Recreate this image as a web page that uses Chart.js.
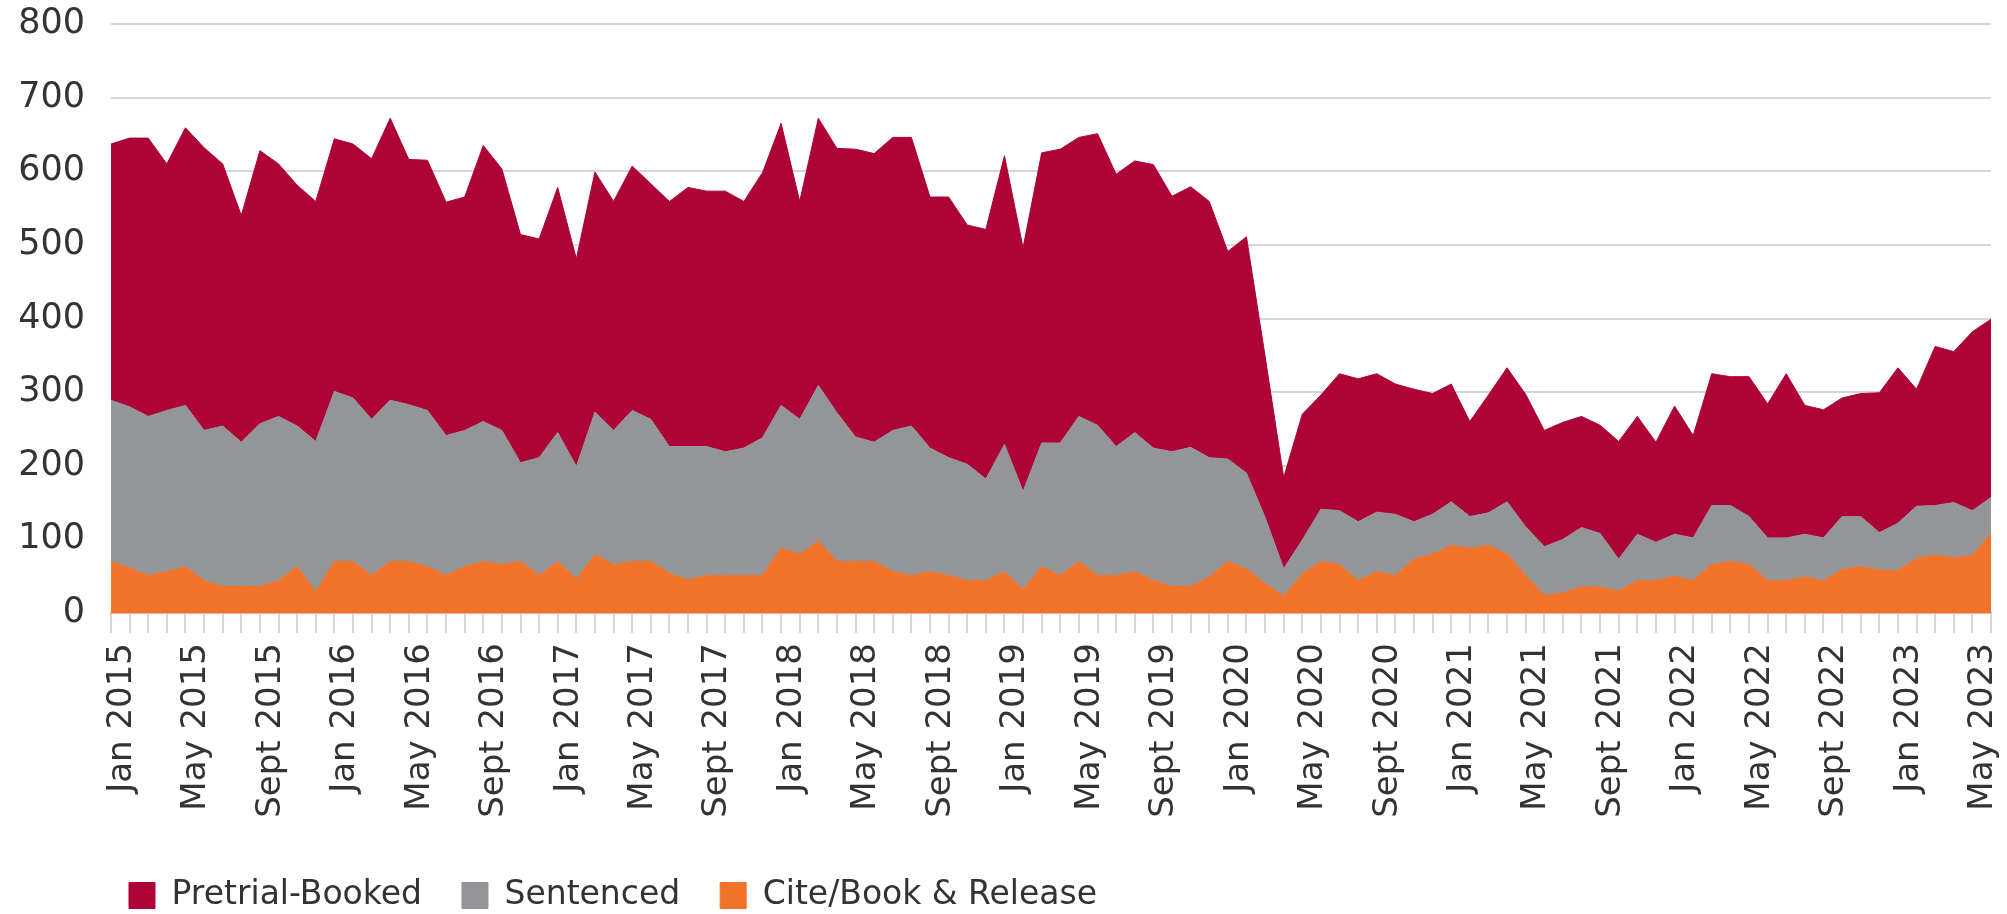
<!DOCTYPE html>
<html>
<head>
<meta charset="utf-8">
<script src="https://cdn.jsdelivr.net/npm/chart.js"></script>
<style>
    html, body { margin: 0; padding: 0; background: #fff; }
    #wrap { width: 2007px; height: 914px; position: relative; }
</style>
</head>
<body>
<div id="wrap"><canvas id="grafico1"></canvas></div>
<script>
// months Jan 2015 .. June 2023, a label only every 4th month
const monthNames = ['Jan', 'Feb', 'Mar', 'Apr', 'May', 'June', 'July', 'Aug', 'Sept', 'Oct', 'Nov', 'Dec'];
const years = [2015, 2016, 2017, 2018, 2019, 2020, 2021, 2022, 2023];
const lastMonth = 6; // data stops at June 2023

const pretrial = [
    348, 365, 378, 335, 377, 384, 356, 308, 371, 343,
    327, 326, 343, 345, 354, 383, 333, 340, 317, 317,
    375, 355, 310, 297, 333, 282, 326, 311, 332, 320,
    333, 352, 347, 354, 335, 360, 383, 296, 363, 359,
    391, 392, 398, 392, 341, 354, 325, 339, 392, 331,
    394, 399, 379, 396, 370, 369, 385, 347, 354, 348,
    282, 321, 219, 124, 171, 155, 186, 194, 188, 177,
    180, 164, 160, 129, 160, 182, 180, 158, 159, 151,
    147, 160, 160, 136, 174, 139, 179, 175, 190, 182,
    223, 175, 174, 161, 167, 190, 211, 159, 216, 205,
    243, 242
];
const sentenced = [
    219, 219, 216, 219, 219, 204, 218, 196, 221, 223,
    191, 204, 231, 222, 212, 219, 213, 212, 190, 185,
    190, 182, 134, 160, 175, 153, 194, 182, 205, 193,
    172, 181, 175, 168, 173, 187, 194, 183, 211, 202,
    169, 162, 192, 203, 168, 160, 158, 138, 173, 133,
    168, 180, 197, 204, 175, 189, 180, 183, 189, 162,
    139, 130, 90, 37, 46, 71, 73, 80, 81, 83,
    51, 54, 59, 43, 44, 71, 66, 66, 73, 80,
    73, 43, 63, 52, 57, 58, 80, 76, 65, 58,
    58, 58, 58, 72, 68, 51, 64, 71, 67, 75,
    61, 49
];
const cite = [
    70, 61, 51, 56, 63, 44, 36, 36, 36, 44,
    63, 29, 70, 70, 51, 70, 70, 63, 51, 63,
    70, 66, 70, 51, 70, 46, 79, 66, 70, 70,
    54, 45, 51, 51, 51, 51, 88, 80, 98, 70,
    70, 70, 56, 51, 56, 51, 44, 44, 56, 32,
    63, 51, 70, 51, 51, 56, 44, 36, 36, 49,
    70, 60, 40, 23, 53, 70, 66, 44, 56, 51,
    73, 80, 92, 88, 92, 80, 51, 24, 27, 36,
    35, 30, 44, 44, 50, 44, 66, 70, 66, 44,
    44, 49, 44, 59, 63, 58, 58, 74, 79, 75,
    78, 108
];

const labels = [];
years.forEach(function(y){
    monthNames.forEach(function(m, i){
        if (y < 2023 || i < lastMonth) labels.push(m + ' ' + y);
    });
});

const fontFam = "'DejaVu Sans', sans-serif";
const plotBottom = 613;
const extraBottom = 300; // negative layout padding so the x labels are not clipped
const legendGap = 40;

// puts the legend under the labels, lined up with the plot
const moveLegend = {
    id: 'moveLegend',
    afterLayout(chart){
        chart.legend.left = 129 - legendGap;
        chart.legend.top = 839;
    }
};

window.onload = function(){
    const ctx = document.getElementById('grafico1');

    new Chart(ctx, {
        type: 'line',
        data: {
            labels: labels,
            datasets: [
                {
                    label: 'Cite/Book & Release',
                    data: cite,
                    backgroundColor: '#F07329',
                    borderColor: '#F07329',
                    fill: 'origin'
                },
                {
                    label: 'Sentenced',
                    data: sentenced,
                    backgroundColor: '#939598',
                    borderColor: '#939598',
                    fill: '-1'
                },
                {
                    label: 'Pretrial-Booked',
                    data: pretrial,
                    backgroundColor: '#AE0336',
                    borderColor: '#AE0336',
                    fill: '-1'
                }
            ]
        },
        options: {
            responsive: true,
            maintainAspectRatio: false,
            animation: false,
            layout: {
                padding: { top: 24, right: 16, bottom: -extraBottom, left: 0 }
            },
            elements: {
                line: { tension: 0, borderWidth: 1 },
                point: { radius: 0, hoverRadius: 0 }
            },
            scales: {
                x: {
                    grid: {
                        drawOnChartArea: false,
                        drawTicks: true,
                        tickLength: 20,
                        color: '#d6d6d6',
                        lineWidth: 2
                    },
                    border: { display: true, color: '#f6b48a', width: 2 },
                    ticks: {
                        autoSkip: false,
                        maxRotation: 90,
                        minRotation: 90,
                        padding: 10,
                        labelOffset: 11,
                        color: '#333',
                        font: { family: fontFam, size: 34 },
                        callback: function(val, i){
                            return i % 4 === 0 ? labels[i] : '';
                        }
                    },
                    afterFit: function(scale){
                        scale.height = 914 + extraBottom - plotBottom - scale.chart.legend.height;
                        scale.paddingLeft = 0;
                        scale.paddingRight = 0;
                    }
                },
                y: {
                    stacked: true,
                    min: 0,
                    max: 800,
                    grid: {
                        color: '#d6d6d6',
                        lineWidth: 2,
                        drawTicks: false
                    },
                    border: { display: false },
                    ticks: {
                        stepSize: 100,
                        padding: 26,
                        color: '#333',
                        font: { family: fontFam, size: 35 }
                    },
                    afterFit: function(scale){
                        scale.width = 111;
                        scale.paddingTop = 0;
                        scale.paddingBottom = 0;
                    }
                }
            },
            plugins: {
                legend: {
                    position: 'bottom',
                    align: 'start',
                    reverse: true,
                    labels: {
                        boxWidth: 26,
                        boxHeight: 26,
                        padding: legendGap,
                        color: '#333',
                        font: { family: fontFam, size: 33 }
                    }
                },
                tooltip: { enabled: false }
            }
        },
        plugins: [moveLegend]
    });
}
</script>
</body>
</html>
